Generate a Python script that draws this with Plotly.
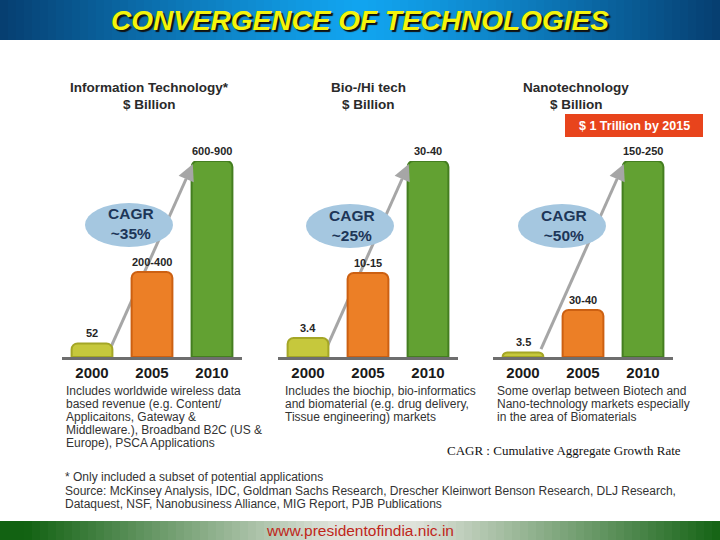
import plotly.graph_objects as go

W, H = 720, 540


def px(x):
    return x / W


def py(y):
    return 1 - y / H


# ---------------- data ----------------
years = [2000, 2005, 2010]
year_labels = ["2000", "2005", "2010"]

it_values = [52, 325, 750]
it_labels = ["52", "200-400", "600-900"]

bio_values = [3.4, 15, 35]
bio_labels = ["3.4", "10-15", "30-40"]

nano_values = [3.5, 36, 150]
nano_labels = ["3.5", "30-40", "150-250"]

cagr_labels = ["~35%", "~25%", "~50%"]

panel_titles = ["Information Technology*", "Bio-/Hi tech", "Nanotechnology"]
panel_units = ["$ Billion", "$ Billion", "$ Billion"]

it_desc = [
    "Includes worldwide wireless data",
    "based revenue (e.g. Content/",
    "Applicaitons, Gateway &",
    "Middleware.), Broadband B2C (US &",
    "Europe), PSCA Applications",
]
bio_desc = [
    "Includes the biochip, bio-informatics",
    "and biomaterial (e.g. drug delivery,",
    "Tissue engineering) markets",
]
nano_desc = [
    "Some overlap between Biotech and",
    "Nano-technology markets especially",
    "in the area of Biomaterials",
]

footnotes = [
    "* Only included a subset of potential applications",
    "Source: McKinsey Analysis, IDC, Goldman Sachs Research, Drescher Kleinwort Benson Research, DLJ Research,",
    "Dataquest, NSF, Nanobusiness Alliance, MIG Report, PJB Publications",
]

bar_colors = ["#c6c83c", "#ec7f26", "#62a132"]
bar_edges = ["#a4a626", "#cc6012", "#447e20"]

# ---------------- layout config ----------------
FONT = "Liberation Sans, Arial, sans-serif"
panels = [
    dict(values=it_values, labels=it_labels, cagr=cagr_labels[0], title=panel_titles[0],
         unit=panel_units[0], desc=it_desc, xdom=(62, 242), tcx=149, ell=(129, 225), dx=64),
    dict(values=bio_values, labels=bio_labels, cagr=cagr_labels[1], title=panel_titles[1],
         unit=panel_units[1], desc=bio_desc, xdom=(278, 458), tcx=368, ell=(350, 226), dx=283),
    dict(values=nano_values, labels=nano_labels, cagr=cagr_labels[2], title=panel_titles[2],
         unit=panel_units[2], desc=nano_desc, xdom=(493, 673), tcx=576, ell=(562, 226), dx=495),
]
BASE_Y, TOP_Y = 357, 161


def note(x, y, text, size, color, xanchor="center", yanchor="middle", family=FONT, **fkw):
    return dict(x=px(x), y=py(y), xref="paper", yref="paper", text=text, showarrow=False,
                xanchor=xanchor, yanchor=yanchor,
                font=dict(family=family, size=size, color=color, **fkw))


fig = go.Figure()
shapes = []
annotations = []
layout_axes = {}

for i, p in enumerate(panels):
    sfx = "" if i == 0 else str(i + 1)
    xa, ya = "x" + sfx, "y" + sfx
    vals = p["values"]
    ymax = max(vals)
    fig.add_trace(go.Bar(
        x=years, y=vals, width=3.4, xaxis=xa, yaxis=ya,
        marker=dict(color=bar_colors, cornerradius=6, line=dict(width=2, color=bar_edges)),
        hoverinfo="skip", showlegend=False,
    ))
    layout_axes["xaxis" + sfx] = dict(
        domain=[px(p["xdom"][0]), px(p["xdom"][1])], range=[1997.5, 2012.5],
        tickvals=years, ticktext=year_labels, showline=True, linecolor="#6e6e6e",
        linewidth=3, showgrid=False, zeroline=False, ticks="", anchor=ya,
        tickfont=dict(family=FONT, size=15, color="#1a1a1a", weight="bold"), fixedrange=True,
    )
    layout_axes["yaxis" + sfx] = dict(
        domain=[py(BASE_Y), py(TOP_Y)], range=[0, ymax], visible=False, anchor=xa, fixedrange=True,
    )
    # value labels
    for yr, v, lab in zip(years, vals, p["labels"]):
        annotations.append(dict(
            x=yr, y=v, xref=xa, yref=ya, text="<b>%s</b>" % lab, showarrow=False,
            xanchor="center", yanchor="bottom", yshift=2,
            font=dict(family=FONT, size=11, color="#262626"),
        ))
    # growth arrow: line (behind bars) + head
    tx, ty = 2001.5, 0.04 * ymax
    hx, hy = 2008.4, 0.985 * ymax
    ex, ey = tx + (hx - tx) * 0.92, ty + (hy - ty) * 0.92
    shapes.append(dict(type="line", xref=xa, yref=ya, x0=tx, y0=ty, x1=ex, y1=ey,
                       line=dict(color="#a6a6a6", width=3), layer="below"))
    annotations.append(dict(x=hx, y=hy, xref=xa, yref=ya, text="", showarrow=True,
                            ax=-7, ay=16, arrowhead=2, arrowsize=1.1, arrowwidth=3,
                            arrowcolor="#a6a6a6"))
    # CAGR ellipse
    cx, cy = p["ell"]
    shapes.append(dict(type="circle", xref="paper", yref="paper",
                       x0=px(cx - 44), x1=px(cx + 44), y0=py(cy + 22), y1=py(cy - 22),
                       fillcolor="#a5c7e0", line=dict(width=0), layer="above"))
    annotations.append(note(cx + 2, cy - 1, "<b>CAGR<br>%s</b>" % p["cagr"], 15.5, "#1d3658"))
    # titles
    annotations.append(note(p["tcx"], 87.5, "<b>%s</b>" % p["title"], 13.5, "#2a2a2a"))
    annotations.append(note(p["tcx"], 104.5, "<b>%s</b>" % p["unit"], 13.5, "#2a2a2a"))
    # description
    for j, line in enumerate(p["desc"]):
        annotations.append(note(p["dx"], 391 + 13 * j, line, 12, "#333333", xanchor="left"))

# header gradient
N = 90
for k in range(N):
    x0 = W * k / N
    x1 = W * (k + 1) / N
    t = abs((x0 + x1) / 2 - W / 2) / (W / 2)
    t = min(1.0, t) ** 1.2
    c0 = (18, 165, 240)
    c1 = (6, 62, 112)
    col = tuple(int(c0[m] + (c1[m] - c0[m]) * t) for m in range(3))
    shapes.append(dict(type="rect", xref="paper", yref="paper", x0=px(x0), x1=px(x1) + 0.001,
                       y0=py(40), y1=1, fillcolor="rgb(%d,%d,%d)" % col, line=dict(width=0),
                       layer="below"))
# footer gradient
for k in range(N):
    x0 = W * k / N
    x1 = W * (k + 1) / N
    t = abs((x0 + x1) / 2 - W * 0.52) / (W / 2)
    t = max(0.0, min(1.0, (t - 0.12) / 0.85))
    c0 = (222, 226, 218)
    c1 = (18, 98, 18)
    col = tuple(int(c0[m] + (c1[m] - c0[m]) * t) for m in range(3))
    shapes.append(dict(type="rect", xref="paper", yref="paper", x0=px(x0), x1=px(x1) + 0.001,
                       y0=0, y1=py(521), fillcolor="rgb(%d,%d,%d)" % col, line=dict(width=0),
                       layer="below"))

# red highlight box
shapes.append(dict(type="rect", xref="paper", yref="paper", x0=px(565), x1=px(703),
                   y0=py(137), y1=py(114), fillcolor="#e8441c", line=dict(width=0), layer="above"))
annotations.append(note(634, 126, "<b>$ 1 Trillion by 2015</b>", 12.5, "white"))

# header title
annotations.append(note(360, 21, "CONVERGENCE OF TECHNOLOGIES", 28, "#f4f40c",
                        weight="bold", style="italic", shadow="2px 2px 1px #111111"))
# footer url
annotations.append(note(360, 530, "www.presidentofindia.nic.in", 15.5, "#c0261a"))
# CAGR definition
annotations.append(note(445, 450, "CAGR : Cumulative Aggregate Growth Rate", 13, "#111111",
                        xanchor="left", family="Liberation Serif, Times New Roman, serif"))
# footnotes
for j, line in enumerate(footnotes):
    annotations.append(note(63, 477 + 13.5 * j, line, 12, "#333333", xanchor="left"))

fig.update_layout(
    width=W, height=H, margin=dict(l=0, r=0, t=0, b=0),
    paper_bgcolor="white", plot_bgcolor="rgba(0,0,0,0)",
    shapes=shapes, annotations=annotations, showlegend=False,
    **layout_axes,
)

fig.write_html("out.html", post_script="document.body.style.margin='0';",
               config={"displayModeBar": False})
